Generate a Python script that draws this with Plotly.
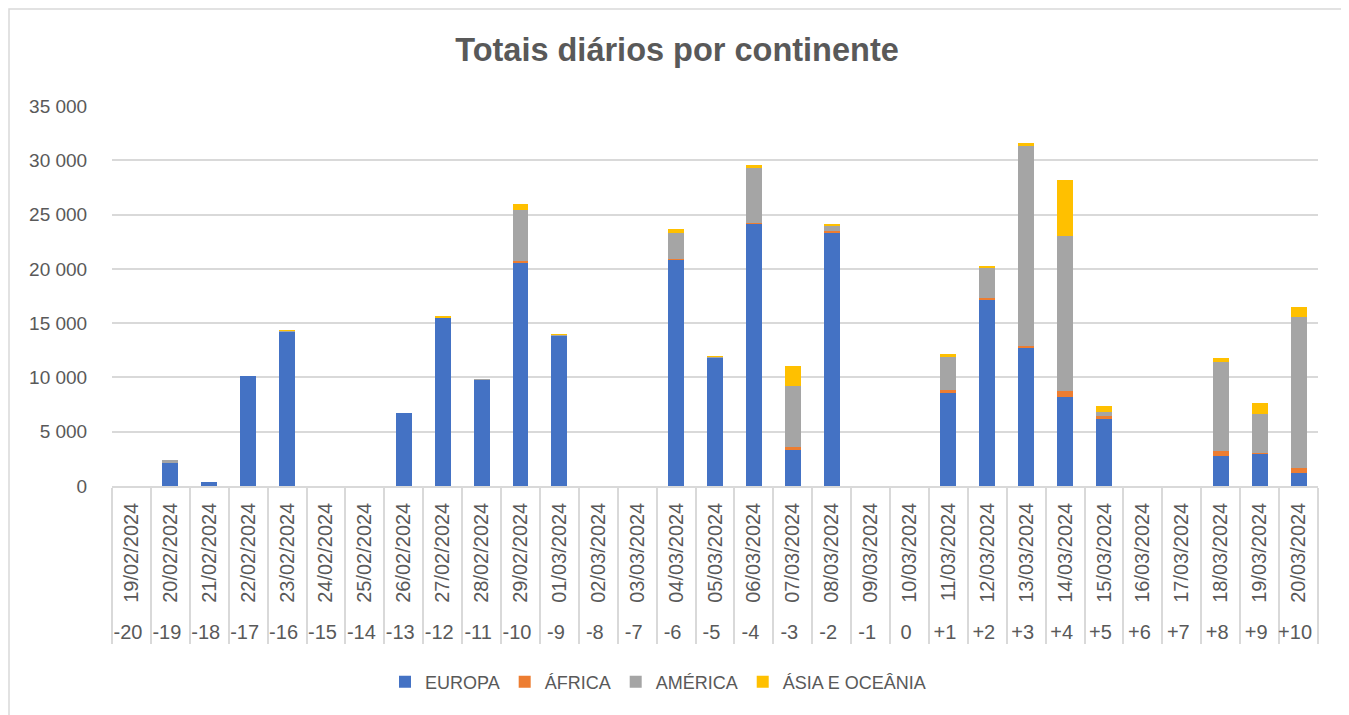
import plotly.graph_objects as go

# category labels (two levels: date and day offset)
dates = ['19/02/2024', '20/02/2024', '21/02/2024', '22/02/2024', '23/02/2024', '24/02/2024',
         '25/02/2024', '26/02/2024', '27/02/2024', '28/02/2024', '29/02/2024', '01/03/2024',
         '02/03/2024', '03/03/2024', '04/03/2024', '05/03/2024', '06/03/2024', '07/03/2024',
         '08/03/2024', '09/03/2024', '10/03/2024', '11/03/2024', '12/03/2024', '13/03/2024',
         '14/03/2024', '15/03/2024', '16/03/2024', '17/03/2024', '18/03/2024', '19/03/2024',
         '20/03/2024']
offsets = ['-20', '-19', '-18', '-17', '-16', '-15', '-14', '-13', '-12', '-11', '-10', '-9',
           '-8', '-7', '-6', '-5', '-4', '-3', '-2', '-1', '0', '+1', '+2', '+3', '+4', '+5',
           '+6', '+7', '+8', '+9', '+10']

# values per continent
europa = [0, 2100, 370, 10100, 14250, 0, 0, 6700, 15500, 9800, 20600, 13900, 0, 0, 20850, 11850,
          24200, 3350, 23300, 0, 0, 8550, 17200, 12750, 8200, 6260, 0, 0, 2760, 2950, 1200]
africa = [0, 0, 0, 0, 0, 0, 0, 0, 0, 0, 150, 0, 0, 0, 100, 0,
          50, 250, 200, 0, 0, 270, 150, 100, 550, 150, 0, 0, 500, 60, 460]
america = [0, 250, 0, 0, 40, 0, 0, 0, 0, 50, 4700, 50, 0, 0, 2350, 40,
           5050, 5600, 450, 0, 0, 3050, 2800, 18450, 14270, 400, 0, 0, 8150, 3620, 13880]
asia = [0, 0, 0, 0, 50, 0, 0, 0, 100, 0, 520, 50, 0, 0, 340, 50,
        250, 1850, 130, 0, 0, 330, 100, 300, 5130, 550, 0, 0, 350, 1050, 940]

series = [
    ('EUROPA', europa, '#4472C4'),
    ('ÁFRICA', africa, '#ED7D31'),
    ('AMÉRICA', america, '#A5A5A5'),
    ('ÁSIA E OCEÂNIA', asia, '#FFC000'),
]

txt = '#595959'
grid = '#d9d9d9'
font = 'Liberation Sans'

# page has an 8px body margin, so the figure is sized/shifted to compensate
W, H = 1341, 707
L, R, T, B = 104, 31, 98, 229
pw, ph = W - L - R, H - T - B

# a leading no-break space gives the rotated dates a little extra room below
date_labels = ['\u00a0' + d for d in dates]

fig = go.Figure()
for name, vals, col in series:
    fig.add_trace(go.Bar(
        x=[offsets, date_labels],
        y=vals,
        name=name,
        marker=dict(color=col, line=dict(width=0)),
    ))

fig.update_layout(
    barmode='stack',
    bargap=0.59,
    width=W,
    height=H,
    separators=', ',
    paper_bgcolor='white',
    plot_bgcolor='white',
    font=dict(family=font, size=19, color=txt),
    margin=dict(l=L, r=R, t=T, b=B),
    title=dict(
        text='<b>Totais diários por continente</b>',
        font=dict(family=font, size=32.5, color=txt),
        x=(677 - 8) / W, xref='container', xanchor='center',
        y=1 - 42 / H, yref='container', yanchor='middle',
    ),
    legend=dict(
        orientation='h',
        x=(385 - 8 - L) / pw, xanchor='left',
        y=(T + ph - (682 - 8)) / ph, yanchor='middle',
        font=dict(family=font, size=18, color=txt),
        traceorder='normal',
    ),
    showlegend=True,
)

fig.update_xaxes(
    type='multicategory',
    tickangle=-90,
    tickfont=dict(family=font, size=20, color=txt),
    ticklabelstandoff=7,
    showline=True, linecolor=grid, linewidth=1.5,
    showgrid=False,
    ticks='',
    showdividers=True, dividercolor=grid, dividerwidth=1.5,
)

fig.update_yaxes(
    range=[0, 35000],
    dtick=5000,
    tickformat=',d',
    showgrid=True, gridcolor=grid, gridwidth=1.5,
    zeroline=False,
    showline=False,
    ticks='outside', ticklen=20, tickcolor='rgba(0,0,0,0)',
    tickfont=dict(family=font, size=19, color=txt),
)

# outer chart border
fig.add_shape(
    type='rect', xref='paper', yref='paper',
    x0=(1 - L) / pw, x1=(1338 - L) / pw,
    y0=(T + ph - (H + 10)) / ph, y1=(T + ph - 1) / ph,
    line=dict(color=grid, width=1.5), fillcolor='rgba(0,0,0,0)', layer='below',
)

fig.write_html('out.html')
